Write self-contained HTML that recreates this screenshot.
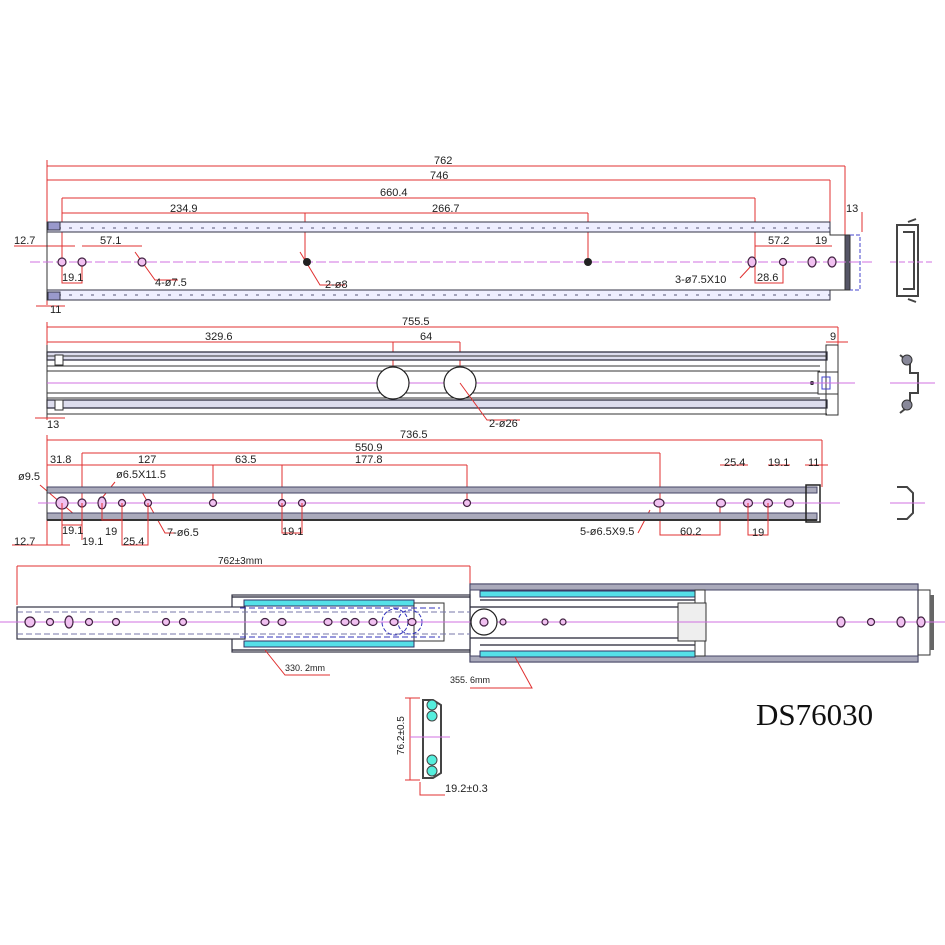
<!DOCTYPE html>
<html><head><meta charset="utf-8"><style>
html,body{margin:0;padding:0;background:#fff;}
svg{display:block;}
text{font-family:"Liberation Sans",sans-serif;font-size:11px;fill:#222;}
.r{stroke:#e03030;stroke-width:1;fill:none;}
.c{stroke:#d070e0;stroke-width:1;fill:none;}
.k{stroke:#333;stroke-width:1;fill:none;}
.n{stroke:#223;stroke-width:1.2;fill:none;}
.h{stroke:#402040;stroke-width:1.2;fill:#f0c0f0;}
</style></head><body>
<svg width="945" height="945" viewBox="0 0 945 945" xmlns="http://www.w3.org/2000/svg">
<rect width="945" height="945" fill="#fff"/>

<!-- ===== Rail 1 ===== -->
<g>
<path class="r" d="M47 166H845M47 180H830M62 198H755M62 213H588M47 160V305M62 198V262M305 213V262M588 213V262M755 198V262M830 180V232M845 166V235M862 212V232"/>
<text x="434" y="164">762</text><text x="430" y="179">746</text>
<text x="380" y="196">660.4</text><text x="170" y="212">234.9</text><text x="432" y="212">266.7</text>
<text x="846" y="212">13</text>
<path class="r" d="M14 246H75M82 246H142M755 246H832"/>
<text x="14" y="244">12.7</text><text x="100" y="244">57.1</text><text x="768" y="244">57.2</text><text x="815" y="244">19</text>
<path class="r" d="M62 262V283H82V262M755 262V283H783V262M135 252L155 280H178M300 252L320 285H345M740 278L752 265"/>
<text x="62" y="281">19.1</text><text x="155" y="286">4-ø7.5</text><text x="325" y="288">2-ø8</text>
<text x="675" y="283">3-ø7.5X10</text><text x="757" y="281">28.6</text>
<rect x="47" y="222" width="783" height="10" fill="#eef" stroke="#334" stroke-width="1"/>
<line x1="47" y1="228" x2="830" y2="228" stroke="#557" stroke-dasharray="3 8"/>
<rect x="47" y="290" width="783" height="10" fill="#eef" stroke="#334" stroke-width="1"/>
<line x1="47" y1="295" x2="830" y2="295" stroke="#557" stroke-dasharray="3 8"/>
<path class="k" d="M47 222V300M830 232V235H845V290H830"/>
<rect x="845" y="235" width="5" height="55" fill="#556" stroke="#333"/>
<path d="M850 235H860V290H850" stroke="#44c" fill="none" stroke-dasharray="4 2"/>
<rect x="48" y="222" width="12" height="8" fill="#99c" stroke="#334"/>
<rect x="48" y="292" width="12" height="8" fill="#99c" stroke="#334"/>
<line class="c" x1="30" y1="262" x2="875" y2="262" stroke-dasharray="10 3"/>
<circle class="h" cx="62" cy="262" r="4"/><circle class="h" cx="82" cy="262" r="4"/><circle class="h" cx="142" cy="262" r="4"/>
<circle cx="307" cy="262" r="4" fill="#222"/><circle cx="588" cy="262" r="4" fill="#222"/>
<ellipse class="h" cx="752" cy="262" rx="4" ry="5"/><circle class="h" cx="783" cy="262" r="3.5"/>
<ellipse class="h" cx="812" cy="262" rx="4" ry="5"/><ellipse class="h" cx="832" cy="262" rx="4" ry="5"/>
<path class="r" d="M36 306H65"/><text x="50" y="313">11</text>
<!-- end profile -->
<path d="M897 225H918V296H897Z M903 232H914V289H903" stroke="#444" fill="none" stroke-width="2"/>
<path d="M908 222l8 -3M908 299l8 3" stroke="#444" stroke-width="2"/>
<line class="c" x1="890" y1="262" x2="935" y2="262" stroke-dasharray="6 3"/>
</g>

<!-- ===== Rail 2 ===== -->
<g>
<path class="r" d="M47 327H838M47 342H460M47 322V420M393 342V383M460 342V383M826 342H848M838 327V345"/>
<text x="402" y="325">755.5</text><text x="205" y="340">329.6</text><text x="420" y="340">64</text><text x="830" y="340">9</text>
<g class="n">
<rect x="47" y="352" width="780" height="8" fill="#dde"/>
<rect x="47" y="400" width="780" height="8" fill="#dde"/>
<path class="k" d="M47 345V418M47 366H820M47 371H820M47 393H820M47 398H820M47 414H827M47 356H827"/>
</g>
<rect x="818" y="372" width="20" height="22" fill="#fff" stroke="#333"/>
<rect x="826" y="345" width="12" height="70" fill="none" stroke="#333"/>
<rect x="822" y="377" width="8" height="12" fill="none" stroke="#44c"/>
<circle cx="812" cy="383" r="2" fill="#222"/>
<rect x="55" y="355" width="8" height="10" fill="#fff" stroke="#333"/>
<rect x="55" y="400" width="8" height="10" fill="#fff" stroke="#333"/>
<line class="c" x1="47" y1="383" x2="855" y2="383"/>
<circle cx="393" cy="383" r="16" fill="#fff" stroke="#222" stroke-width="1.2"/>
<circle cx="460" cy="383" r="16" fill="#fff" stroke="#222" stroke-width="1.2"/>
<path class="r" d="M460 383L487 420H520"/><text x="489" y="427">2-ø26</text>
<path class="r" d="M35 418H65"/><text x="47" y="428">13</text>
<!-- profile -->
<path d="M900 355l10 8 0 10 8 0 0 20 -8 0 0 12 -10 8" stroke="#444" fill="none" stroke-width="2"/>
<circle cx="907" cy="360" r="5" fill="#889" stroke="#333"/><circle cx="907" cy="405" r="5" fill="#889" stroke="#333"/>
<line class="c" x1="890" y1="383" x2="935" y2="383"/>
</g>

<!-- ===== Rail 3 ===== -->
<g>
<path class="r" d="M47 440H822M82 453H660M47 465H467M47 435V545M82 453V503M213 465V503M282 465V503M467 465V503M660 453V535H720V503M822 440V487M720 465H748M768 465H790M805 465H828"/>
<text x="400" y="438">736.5</text><text x="355" y="451">550.9</text>
<text x="50" y="463">31.8</text><text x="138" y="463">127</text><text x="235" y="463">63.5</text><text x="355" y="463">177.8</text>
<text x="724" y="466">25.4</text><text x="768" y="466">19.1</text><text x="808" y="466">11</text>
<text x="18" y="480">ø9.5</text><text x="116" y="478">ø6.5X11.5</text>
<path class="r" d="M40 485L75 515M115 482L102 498M142 492L165 533H175M650 510L638 533"/>
<g>
<rect x="47" y="487" width="770" height="6" fill="#aab" stroke="#446"/>
<rect x="47" y="513" width="770" height="7" fill="#aab" stroke="#446"/>
<line x1="47" y1="520" x2="817" y2="520" stroke="#333" stroke-width="2"/>
<rect x="806" y="485" width="14" height="37" fill="none" stroke="#222" stroke-width="1.5"/>
<line x1="47" y1="487" x2="47" y2="520" stroke="#333"/>
</g>
<line class="c" x1="38" y1="503" x2="840" y2="503"/>
<circle class="h" cx="62" cy="503" r="6"/><circle class="h" cx="82" cy="503" r="4"/>
<ellipse class="h" cx="102" cy="503" rx="4" ry="6"/><circle class="h" cx="122" cy="503" r="3.5"/>
<circle class="h" cx="148" cy="503" r="3.5"/><circle class="h" cx="213" cy="503" r="3.5"/>
<circle class="h" cx="282" cy="503" r="3.5"/><circle class="h" cx="302" cy="503" r="3.5"/>
<circle class="h" cx="467" cy="503" r="3.5"/><ellipse class="h" cx="659" cy="503" rx="5" ry="4"/>
<ellipse class="h" cx="721" cy="503" rx="4.5" ry="4"/><ellipse class="h" cx="748" cy="503" rx="4.5" ry="4"/>
<ellipse class="h" cx="768" cy="503" rx="4.5" ry="4"/><ellipse class="h" cx="789" cy="503" rx="4.5" ry="4"/>
<path class="r" d="M62 503V525H82V503M102 503V520H122V503M82 503V540M122 503V545H148V503M282 503V533H302V503M748 503V535H768V503M62 525V545M12 545H70"/>
<text x="62" y="534">19.1</text><text x="82" y="545">19.1</text><text x="105" y="535">19</text><text x="123" y="545">25.4</text>
<text x="282" y="535">19.1</text><text x="167" y="536">7-ø6.5</text><text x="580" y="535">5-ø6.5X9.5</text>
<text x="680" y="535">60.2</text><text x="752" y="536">19</text><text x="14" y="545">12.7</text>
<!-- profile -->
<path d="M897 487h10l6 6v20l-6 6h-10" stroke="#444" fill="none" stroke-width="2"/>
<line class="c" x1="890" y1="503" x2="925" y2="503"/>
</g>

<!-- ===== Rail 4 (extended) ===== -->
<g>
<path class="r" d="M17 566H470M17 566V605M470 566V590"/>
<text x="218" y="564" style="font-size:10px">762±3mm</text>
<!-- outer -->
<rect x="470" y="584" width="448" height="78" fill="#fff" stroke="#334" stroke-width="1.2"/>
<rect x="470" y="584" width="448" height="6" fill="#aab" stroke="#446"/>
<rect x="470" y="656" width="448" height="6" fill="#aab" stroke="#446"/>
<rect x="480" y="591" width="215" height="6" fill="#55e0e8" stroke="#336"/>
<rect x="480" y="651" width="215" height="6" fill="#55e0e8" stroke="#336"/>
<path class="n" d="M480 600H700M480 645H700M470 607H700M470 638H700"/>
<path class="k" d="M918 590h12v65h-12" /><rect x="930" y="595" width="4" height="55" fill="#666"/>
<rect x="695" y="590" width="10" height="66" fill="#fff" stroke="#333"/>
<rect x="678" y="603" width="28" height="38" fill="#eee" stroke="#333"/>
<!-- middle -->
<rect x="232" y="595" width="238" height="57" fill="#fff" stroke="#334" stroke-width="1.2"/>
<rect x="244" y="600" width="170" height="6" fill="#55e0e8" stroke="#336"/>
<rect x="244" y="641" width="170" height="6" fill="#55e0e8" stroke="#336"/>
<path class="n" d="M232 597H470M232 650H470"/>
<rect x="414" y="603" width="30" height="38" fill="none" stroke="#333"/>
<!-- inner -->
<rect x="17" y="607" width="228" height="32" fill="#fff" stroke="#334" stroke-width="1.2"/>
<path d="M17 612H470M17 634H470" stroke="#77a" stroke-dasharray="6 3"/>
<path d="M240 608H440M240 637H440" stroke="#33b" stroke-dasharray="6 3"/>
<circle cx="395" cy="622" r="13" fill="none" stroke="#33b" stroke-dasharray="4 2"/>
<circle cx="410" cy="622" r="12" fill="none" stroke="#33b" stroke-dasharray="4 2"/>
<line class="c" x1="0" y1="622" x2="945" y2="622" stroke-width="1.3"/>
<circle class="h" cx="30" cy="622" r="5"/><circle class="h" cx="50" cy="622" r="3.5"/>
<ellipse class="h" cx="69" cy="622" rx="4" ry="6"/><circle class="h" cx="89" cy="622" r="3.5"/>
<circle class="h" cx="116" cy="622" r="3.5"/><circle class="h" cx="166" cy="622" r="3.5"/><circle class="h" cx="183" cy="622" r="3.5"/>
<ellipse class="h" cx="265" cy="622" rx="4" ry="3.5"/><ellipse class="h" cx="282" cy="622" rx="4" ry="3.5"/>
<ellipse class="h" cx="328" cy="622" rx="4" ry="3.5"/><ellipse class="h" cx="345" cy="622" rx="4" ry="3.5"/>
<ellipse class="h" cx="355" cy="622" rx="4" ry="3.5"/><ellipse class="h" cx="373" cy="622" rx="4" ry="3.5"/>
<ellipse class="h" cx="394" cy="622" rx="4" ry="3.5"/><ellipse class="h" cx="412" cy="622" rx="4" ry="3.5"/>
<circle cx="484" cy="622" r="13" fill="#fff" stroke="#222" stroke-width="1.2"/><circle class="h" cx="484" cy="622" r="4"/>
<circle class="h" cx="503" cy="622" r="3"/><circle class="h" cx="545" cy="622" r="3"/><circle class="h" cx="563" cy="622" r="3"/>
<ellipse class="h" cx="841" cy="622" rx="4" ry="5"/><circle class="h" cx="871" cy="622" r="3.5"/>
<ellipse class="h" cx="901" cy="622" rx="4" ry="5"/><ellipse class="h" cx="921" cy="622" rx="4" ry="5"/>
<path class="r" d="M265 650L285 675H330M515 657L532 688H470"/>
<text x="285" y="671" style="font-size:9px">330. 2mm</text>
<text x="450" y="683" style="font-size:9px">355. 6mm</text>
</g>

<!-- cross-section -->
<g>
<path class="r" d="M405 698H420M405 780H420M410 698V780M420 782V795H445M420 795V785"/>
<text x="0" y="0" transform="translate(404,755) rotate(-90)" style="font-size:10px">76.2±0.5</text>
<text x="445" y="792" style="font-size:11px">19.2±0.3</text>
<path d="M423 700h10l8 5v68l-8 5h-10z" fill="none" stroke="#444" stroke-width="2"/>
<circle cx="432" cy="705" r="5" fill="#5ed" stroke="#444"/><circle cx="432" cy="716" r="5" fill="#5ed" stroke="#444"/>
<circle cx="432" cy="760" r="5" fill="#5ed" stroke="#444"/><circle cx="432" cy="771" r="5" fill="#5ed" stroke="#444"/>
<line class="c" x1="410" y1="737" x2="450" y2="737"/>
</g>

<text x="756" y="725" style="font-family:'Liberation Serif',serif;font-size:31px;fill:#111">DS76030</text>
</svg>
</body></html>
